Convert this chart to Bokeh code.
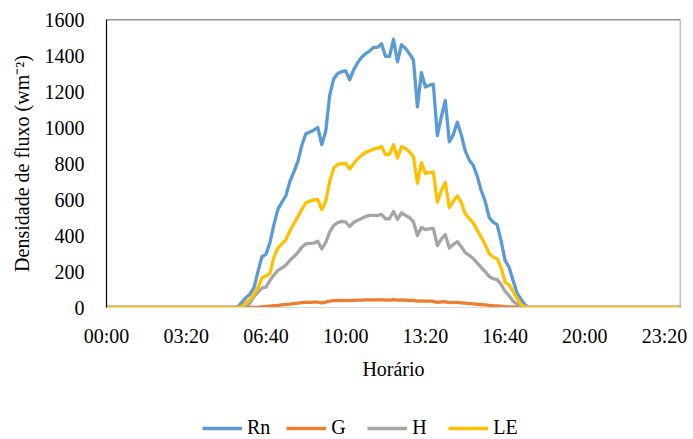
from bokeh.plotting import figure
from bokeh.models import Range1d, FixedTicker, Legend, LegendItem, Span
from bokeh.layouts import column
from bokeh.embed import file_html
from bokeh.resources import INLINE

# time axis: minutes after midnight, 10-min steps
minutos = list(range(0, 1441, 10))

tick_positions = [0, 200, 400, 600, 800, 1000, 1200, 1400]
tick_labels = ["00:00", "03:20", "06:40", "10:00", "13:20", "16:40", "20:00", "23:20"]
y_ticks = [0, 200, 400, 600, 800, 1000, 1200, 1400, 1600]

night_am = [0] * 32   # 00:00 - 05:10
night_pm = [0] * 38   # 17:50 - 24:00

# daytime values 05:20 - 17:40 (W m-2)
rn_day = [0, 5, 30, 55, 75, 110, 200, 282, 295, 360,
          460, 545, 585, 620, 700, 752, 810, 900, 965, 975,
          985, 1000, 905, 980, 1180, 1270, 1300, 1310, 1315, 1265,
          1320, 1360, 1390, 1410, 1425, 1445, 1445, 1465, 1395, 1395,
          1490, 1365, 1460, 1440, 1410, 1375, 1115, 1305, 1225, 1235,
          1240, 955, 1060, 1150, 920, 960, 1030, 960, 870, 820,
          790, 730, 650, 590, 500, 474, 460, 370, 260, 224,
          150, 80, 45, 15, 0]
g_day = [0, 0, 0, 0, 0, 1, 2, 4, 6, 8,
         10, 12, 15, 17, 19, 22, 24, 27, 29, 29,
         30, 30, 26, 30, 36, 38, 39, 40, 40, 38,
         40, 41, 41, 42, 42, 42, 42, 43, 41, 41,
         44, 41, 42, 41, 40, 39, 35, 37, 35, 35,
         34, 29, 31, 32, 27, 28, 28, 26, 24, 22,
         20, 18, 16, 14, 12, 10, 9, 7, 5, 4,
         3, 2, 1, 0, 0]
h_day = [0, 0, 0, 5, 25, 60, 85, 108, 113, 150,
         180, 206, 220, 235, 262, 282, 305, 335, 354, 356,
         358, 368, 326, 360, 420, 455, 472, 478, 475, 450,
         472, 485, 495, 505, 512, 512, 511, 517, 493, 493,
         533, 490, 525, 512, 500, 476, 400, 445, 433, 437,
         440, 344, 380, 405, 330, 350, 366, 338, 305, 290,
         272, 248, 222, 200, 172, 160, 155, 128, 90, 65,
         35, 18, 8, 2, 0]
le_day = [0, 0, 5, 25, 45, 75, 110, 165, 175, 190,
          280, 330, 355, 375, 425, 465, 505, 545, 580, 590,
          598, 600, 543, 590, 700, 775, 795, 800, 800, 770,
          800, 825, 845, 862, 870, 880, 885, 895, 850, 850,
          905, 830, 893, 883, 865, 838, 690, 805, 745, 750,
          752, 585, 650, 695, 555, 590, 620, 585, 520, 495,
          470, 430, 390, 350, 300, 280, 270, 222, 140, 125,
          90, 50, 15, 3, 0]

Rn = night_am + rn_day + night_pm
G = night_am + g_day + night_pm
H = night_am + h_day + night_pm
LE = night_am + le_day + night_pm

series_names = ["Rn", "G", "H", "LE"]
series_values = [Rn, G, H, LE]
colors = ["#5B9BD5", "#ED7D31", "#A5A5A5", "#FFC000"]

FONT = "Liberation Serif"
LW = 3.3

p = figure(width=693, height=400, output_backend="svg", toolbar_location=None,
           x_range=Range1d(0, 1440), y_range=Range1d(0, 1600),
           min_border_left=106, min_border_right=13, min_border_top=19,
           min_border_bottom=93)
p.background_fill_color = "white"
p.border_fill_color = "white"
p.outline_line_color = None
p.xgrid.visible = False
p.ygrid.visible = False

for name, vals, col in zip(series_names, series_values, colors):
    p.line(minutos, vals, line_color=col, line_width=LW, line_join="round")

p.add_layout(Span(location=1600, dimension="width", line_color="#262626", line_width=1.5))
p.add_layout(Span(location=1440, dimension="height", line_color="#868686", line_width=1.5))

xa = p.xaxis[0]
xa.ticker = FixedTicker(ticks=tick_positions)
xa.major_label_overrides = {t: l for t, l in zip(tick_positions, tick_labels)}
xa.axis_label = "Horário"
xa.axis_line_color = "#d9d9d9"
xa.major_tick_out = 0
xa.major_tick_in = 0
xa.minor_tick_out = 0
xa.minor_tick_in = 0
xa.major_label_standoff = 17
xa.axis_label_standoff = 8
xa.major_label_text_font = FONT
xa.major_label_text_font_size = "20px"
xa.major_label_text_color = "black"
xa.axis_label_text_font = FONT
xa.axis_label_text_font_size = "20px"
xa.axis_label_text_font_style = "normal"
xa.axis_label_text_color = "black"

ya = p.yaxis[0]
ya.ticker = FixedTicker(ticks=y_ticks)
ya.axis_label = "Densidade de fluxo (wm⁻²)"
ya.axis_line_color = "black"
ya.axis_line_width = 1.2
ya.major_tick_out = 0
ya.major_tick_in = 0
ya.minor_tick_out = 0
ya.minor_tick_in = 0
ya.major_label_standoff = 22
ya.axis_label_standoff = 9
ya.major_label_text_font = FONT
ya.major_label_text_font_size = "20px"
ya.major_label_text_color = "black"
ya.axis_label_text_font = FONT
ya.axis_label_text_font_size = "20px"
ya.axis_label_text_font_style = "normal"
ya.axis_label_text_color = "black"

# legend strip under the chart (key lines sit outside its range, so only the legend shows)
pl = figure(width=693, height=39, output_backend="svg", toolbar_location=None,
            x_range=Range1d(0, 1), y_range=Range1d(0, 1),
            x_axis_type=None, y_axis_type=None,
            min_border_left=0, min_border_right=0, min_border_top=0, min_border_bottom=0)
pl.outline_line_color = None
pl.background_fill_color = "white"
pl.border_fill_color = "white"
pl.xgrid.visible = False
pl.ygrid.visible = False
keys = [pl.line([0, 1], [5, 5], line_color=col, line_width=LW) for col in colors]

legend = Legend(items=[LegendItem(label=n, renderers=[k]) for n, k in zip(series_names, keys)],
                orientation="horizontal", location=(96, 0),
                glyph_width=40, glyph_height=20, label_standoff=5, spacing=16,
                padding=0, margin=0, border_line_color=None,
                background_fill_alpha=0,
                label_text_font=FONT, label_text_font_size="20px", label_text_color="black")
pl.add_layout(legend, "center")

layout = column(p, pl, spacing=0)
open("out.html", "w").write(file_html(layout, INLINE))
